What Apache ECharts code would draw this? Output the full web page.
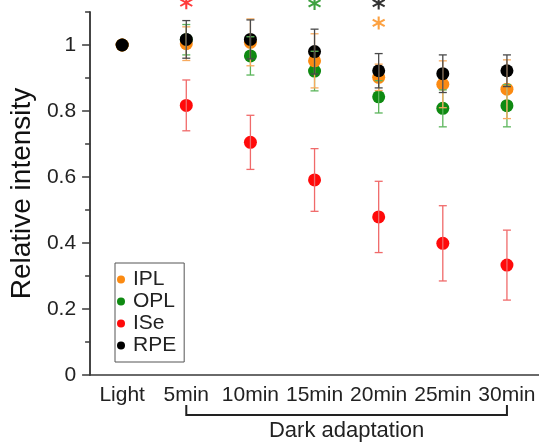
<!DOCTYPE html>
<html>
<head>
<meta charset="utf-8">
<script src="https://cdn.jsdelivr.net/npm/echarts@6/dist/echarts.min.js"></script>
<style>html,body{margin:0;padding:0;background:#fff;}#c{width:539px;height:444px;}</style>
</head>
<body>
<div id="c"></div>
<script>
const categories = ['Light', '5min', '10min', '15min', '20min', '25min', '30min'];
const iplMean = [1, 1.004, 1.008, 0.952, 0.902, 0.881, 0.866];
const iplErr  = [0, 0.051, 0.071, 0.082, 0.040, 0.071, 0.089];
const oplMean = [1, 1.016, 0.967, 0.921, 0.843, 0.808, 0.816];
const oplErr  = [0, 0.046, 0.058, 0.060, 0.049, 0.056, 0.064];
const iseMean = [1, 0.817, 0.705, 0.591, 0.479, 0.399, 0.333];
const iseErr  = [0, 0.077, 0.082, 0.095, 0.108, 0.114, 0.106];
const rpeMean = [1, 1.017, 1.017, 0.980, 0.922, 0.913, 0.922];
const rpeErr  = [0, 0.057, 0.059, 0.068, 0.052, 0.057, 0.048];
const starIPL = [['20min', 1.067]];
const starOPL = [['15min', 1.126]];
const starISe = [['5min', 1.128]];
const starRPE = [['20min', 1.127]];
const yMajorTicks = [0, 0.2, 0.4, 0.6, 0.8, 1];
const yMinorTicks = [0.1, 0.3, 0.5, 0.7, 0.9, 1.1];
const bracketFrom = '5min', bracketTo = '30min', bracketLabel = 'Dark adaptation';

const FONT = 'Liberation Sans, Arial, Helvetica, sans-serif';
const AX = '#3a3a3a';
const STAR = 'path://M-1.5,-10L1.5,-10L1.5,10L-1.5,10Z M7.91,-6.299L9.41,-3.701L-7.91,6.299L-9.41,3.701Z M-9.41,-3.701L-7.91,-6.299L9.41,3.701L7.91,6.299Z';

function errData(mean, err) {
  const out = [];
  mean.forEach((m, i) => { if (err[i] > 0) out.push([i, m - err[i], m + err[i]]); });
  return out;
}
function errRender(color) {
  return function (params, api) {
    const x = api.value(0), lo = api.value(1), hi = api.value(2);
    const t = api.coord([x, hi]), b = api.coord([x, lo]);
    const w = 4, st = { stroke: color, lineWidth: 1.3 };
    return { type: 'group', children: [
      { type: 'line', shape: { x1: t[0], y1: t[1], x2: b[0], y2: b[1] }, style: st },
      { type: 'line', shape: { x1: t[0] - w, y1: t[1], x2: t[0] + w, y2: t[1] }, style: st },
      { type: 'line', shape: { x1: b[0] - w, y1: b[1], x2: b[0] + w, y2: b[1] }, style: st }
    ]};
  };
}
const groups = [
  { name: 'ISe', mean: iseMean, err: iseErr, color: '#ff0a0a', ecol: '#f06a6a', star: starISe, z: 2 },
  { name: 'OPL', mean: oplMean, err: oplErr, color: '#0f8a12', ecol: '#5bb55b', star: starOPL, z: 3 },
  { name: 'IPL', mean: iplMean, err: iplErr, color: '#fb8a12', ecol: '#f7aa5e', star: starIPL, z: 4 },
  { name: 'RPE', mean: rpeMean, err: rpeErr, color: '#000000', ecol: '#4a4a4a', star: starRPE, z: 5 }
];
const series = [];
groups.forEach(g => {
  series.push({ name: g.name, type: 'scatter', data: g.mean, symbol: 'circle', symbolSize: 13,
    itemStyle: { color: g.color, opacity: 1 }, z: g.z, emphasis: { disabled: true } });
  series.push({ name: g.name + ' err', type: 'custom', data: errData(g.mean, g.err),
    encode: { x: 0, y: [1, 2] }, renderItem: errRender(g.ecol), z: 10 + g.z, silent: true });
  series.push({ name: g.name + ' star', type: 'scatter', data: g.star, symbol: STAR, symbolSize: [13, 13],
    clip: false, itemStyle: { color: g.color }, z: 20, silent: true });
});

const chart = echarts.init(document.getElementById('c'), null, { renderer: 'canvas' });
chart.setOption({
  animation: false,
  textStyle: { fontFamily: FONT },
  grid: { left: 87, right: 0, top: 12, bottom: 69, containLabel: false },
  legend: {
    data: ['IPL', 'OPL', 'ISe', 'RPE'], orient: 'vertical', left: 115, top: 263,
    icon: 'circle', itemWidth: 14, itemHeight: 8, itemGap: 1,
    padding: [6, 8, 6, 2], borderColor: '#555', borderWidth: 1,
    textStyle: { fontSize: 21, color: '#222', fontFamily: FONT, padding: [0, 0, 0, 0] },
    selectedMode: false
  },
  xAxis: {
    type: 'category', data: categories, boundaryGap: true,
    axisLine: { lineStyle: { color: AX, width: 1.5 } },
    axisTick: { alignWithLabel: true, length: 6, lineStyle: { color: AX, width: 1.5 } },
    axisLabel: { interval: 0, fontSize: 21, color: '#222', margin: 10, fontFamily: FONT },
    splitLine: { show: false }
  },
  yAxis: [{
    type: 'value', min: 0, max: 1.1,
    name: 'Relative intensity', nameLocation: 'middle', nameGap: 49,
    nameTextStyle: { fontSize: 28, color: '#111', fontFamily: FONT },
    axisLine: { show: true, lineStyle: { color: AX, width: 1.5 } },
    axisTick: { show: true, customValues: yMajorTicks, length: 8, lineStyle: { color: AX, width: 1.5 } },
    axisLabel: { customValues: yMajorTicks, fontSize: 21, color: '#222', margin: 14, fontFamily: FONT,
      formatter: v => String(Math.round(v * 10) / 10) },
    splitLine: { show: false }
  }, {
    type: 'value', min: 0, max: 1.1, position: 'left', offset: 0,
    axisLine: { show: true, lineStyle: { color: AX, width: 1.5 } },
    axisTick: { show: true, customValues: yMinorTicks, length: 5, lineStyle: { color: AX, width: 1.5 } },
    axisLabel: { show: false },
    splitLine: { show: false }
  }],
  series: series
});

const p1 = chart.convertToPixel({ xAxisIndex: 0 }, bracketFrom);
const p2 = chart.convertToPixel({ xAxisIndex: 0 }, bracketTo);
const yAxisBase = chart.convertToPixel({ yAxisIndex: 0 }, 0);
const by = yAxisBase + 40, bt = by - 10;
chart.setOption({
  graphic: [
    { type: 'polyline', shape: { points: [[p1, bt], [p1, by], [p2, by], [p2, bt]] },
      style: { stroke: '#222', lineWidth: 2, fill: null } },
    { type: 'text', x: (p1 + p2) / 2, y: by + 16,
      style: { text: bracketLabel, fontSize: 22, fill: '#222', fontFamily: FONT, align: 'center', verticalAlign: 'middle' } }
  ]
});
</script>
</body>
</html>
